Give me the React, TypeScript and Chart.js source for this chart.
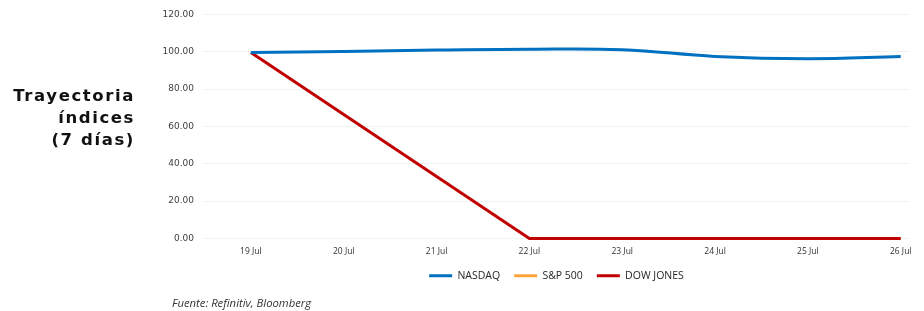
import React, { useEffect, useRef } from "react";
import { Chart, registerables } from "chart.js";

Chart.register(...registerables);

const categories = ["19 Jul", "20 Jul", "21 Jul", "22 Jul", "23 Jul", "24 Jul", "25 Jul", "26 Jul"];
const nasdaq = [99.6, 100.2, 100.9, 101.4, 101.1, 97.5, 96.3, 97.5];
const sp500: (number | null)[] = [null, null, null, null, null, null, null, null];
const dowJones = [99.6, 66.4, 33.2, 0, 0, 0, 0, 0];
const yTicks = [0, 20, 40, 60, 80, 100, 120];
const seriesNames = ["NASDAQ", "S&P 500", "DOW JONES"];

const toXY = (arr: (number | null)[]) => arr.map((y, i) => ({ x: i, y }));

export default function App() {
  const ref = useRef<HTMLCanvasElement | null>(null);

  useEffect(() => {
    if (!ref.current) return;
    const chart = new Chart(ref.current, {
      type: "line",
      data: {
        datasets: [
          {
            label: seriesNames[0],
            data: toXY(nasdaq),
            borderColor: "#0070C0",
            backgroundColor: "#0070C0",
            borderWidth: 3,
            pointRadius: 0,
            pointStyle: "line",
            tension: 0.4,
            clip: false,
          },
          {
            label: seriesNames[1],
            data: toXY(sp500),
            borderColor: "#FFA43A",
            backgroundColor: "#FFA43A",
            borderWidth: 3,
            pointRadius: 0,
            pointStyle: "line",
            tension: 0,
            clip: false,
          },
          {
            label: seriesNames[2],
            data: toXY(dowJones),
            borderColor: "#C00000",
            backgroundColor: "#C00000",
            borderWidth: 3,
            pointRadius: 0,
            pointStyle: "line",
            tension: 0,
            clip: false,
          },
        ],
      },
      options: {
        responsive: false,
        animation: false,
        devicePixelRatio: 1,
        layout: { padding: { top: 11, right: 14, bottom: 20, left: 0 } },
        plugins: {
          tooltip: { enabled: false },
          legend: {
            position: "bottom",
            fullSize: false,
            labels: {
              usePointStyle: true,
              pointStyle: "line",
              pointStyleWidth: 23,
              boxHeight: 3,
              padding: 14,
              color: "#262626",
              font: { family: "Open Sans", size: 10.5 },
            },
          },
        },
        scales: {
          x: {
            type: "linear",
            min: -0.516,
            max: 7.1,
            afterBuildTicks: (scale: any) => {
              scale.ticks = categories.map((_, i) => ({ value: i }));
            },
            afterFit: (scale: any) => {
              scale.height = 18;
            },
            grid: { display: false, drawTicks: false },
            border: { display: false },
            ticks: {
              autoSkip: false,
              maxRotation: 0,
              padding: 8,
              color: "#303030",
              font: { family: "Open Sans", size: 8.5 },
              callback: (v: any) => categories[v] ?? "",
            },
          },
          y: {
            min: 0,
            max: 120,
            afterBuildTicks: (scale: any) => {
              scale.ticks = yTicks.map((v) => ({ value: v }));
            },
            afterFit: (scale: any) => {
              scale.width = 203;
            },
            grid: { color: "#f2f2f2", lineWidth: 1, drawTicks: false },
            border: { display: false },
            ticks: {
              padding: 9,
              color: "#404040",
              font: { family: "DejaVu Sans", size: 9 },
              callback: (v: any) => Number(v).toFixed(2),
            },
          },
        },
      },
    });
    return () => chart.destroy();
  }, []);

  return (
    <div
      style={{
        position: "fixed",
        left: 0,
        top: 0,
        width: 924,
        height: 311,
        background: "#ffffff",
        overflow: "hidden",
      }}
    >
      <canvas ref={ref} width={924} height={311} style={{ display: "block", width: 924, height: 311 }} />
      <div
        style={{
          position: "absolute",
          left: 0,
          top: 85,
          width: 135,
          textAlign: "right",
          fontFamily: "DejaVu Sans",
          fontWeight: "bold",
          fontSize: 16.5,
          letterSpacing: "1.6px",
          lineHeight: "22px",
          color: "#111111",
        }}
      >
        Trayectoria
        <br />
        índices
        <br />
        (7 días)
      </div>
      <div
        style={{
          position: "absolute",
          left: 172,
          top: 296,
          fontFamily: "Open Sans",
          fontStyle: "italic",
          fontSize: 11.3,
          lineHeight: "13px",
          color: "#333333",
          whiteSpace: "nowrap",
        }}
      >
        Fuente: Refinitiv, Bloomberg
      </div>
    </div>
  );
}
